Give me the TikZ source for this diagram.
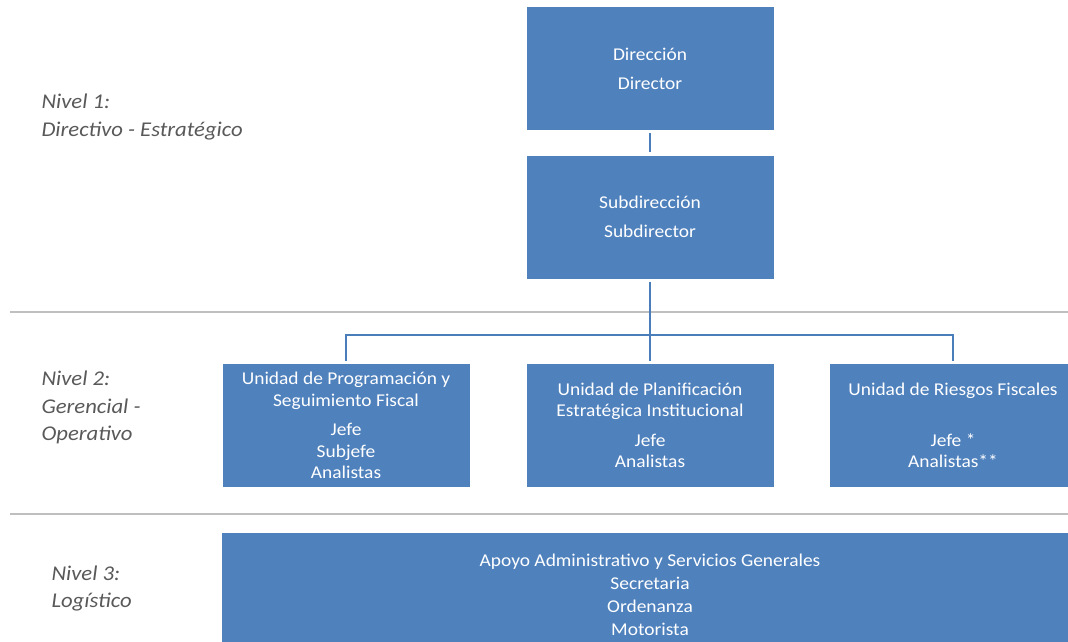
\documentclass[tikz,border=0pt]{standalone}
\usepackage{fontspec}
\setmainfont[FakeStretch=1.08]{Carlito}
\definecolor{boxblue}{HTML}{4F81BD}
\definecolor{lineblue}{HTML}{4A7EBB}
\definecolor{levelgray}{HTML}{595959}
\definecolor{rulegray}{HTML}{BFBFBF}
\begin{document}
\begin{tikzpicture}[x=1pt,y=-1pt,
    unit/.style={fill=boxblue,text=white,align=center,inner sep=0pt,
      minimum width=247pt,minimum height=123pt,font=\fontsize{18}{21.5}\selectfont},
    level/.style={anchor=west,align=left,text=levelgray,
      font=\fontsize{21}{27.5}\selectfont\itshape},
    link/.style={draw=lineblue,line width=2.5pt,shorten <=3pt,shorten >=3pt},
    sep/.style={draw=rulegray,line width=1.2pt}]
  \clip (0,0) rectangle (1068,641);
  \draw[sep] (10,312) -- (1068,312);
  \draw[sep] (10,514) -- (1068,514);
  \node[level] (n1) at (38,117) {Nivel 1:\\Directivo - Estratégico};
  \node[level] (n2) at (38,407.5) {Nivel 2:\\Gerencial -\\Operativo};
  \node[level] (n3) at (48,588.5) {Nivel 3:\\Logístico};
  \node[unit,font=\fontsize{18}{29}\selectfont] (dir) at (650,68.5) {Dirección\\Director};
  \node[unit,font=\fontsize{18}{29}\selectfont] (subdir) at (650,217) {Subdirección\\Subdirector};
  \node[unit] (u1) at (346,425.5) {Unidad de Programación y\\Seguimiento Fiscal\\[8pt]Jefe\\Subjefe\\Analistas};
  \node[unit] (u2) at (650,425.5) {Unidad de Planificación\\Estratégica Institucional\\[8pt]Jefe\\Analistas};
  \node[unit] (u3) at (953,425.5) {Unidad de Riesgos Fiscales\\[29.5pt]Jefe *\\Analistas**};
  \node[unit,minimum width=856pt,font=\fontsize{18}{23}\selectfont] (apoyo) at (650,594.5)
    {Apoyo Administrativo y Servicios Generales\\Secretaria\\Ordenanza\\Motorista};
  \coordinate (bar) at (650,335);
  \begin{scope}[link]
    \draw (dir.south) to (subdir.north);
    \draw (subdir.south) to (u2.north);
    \draw[shorten <=0pt] (bar) -| (u1.north);
    \draw[shorten <=0pt] (bar) -| (u3.north);
  \end{scope}
\end{tikzpicture}
\end{document}
